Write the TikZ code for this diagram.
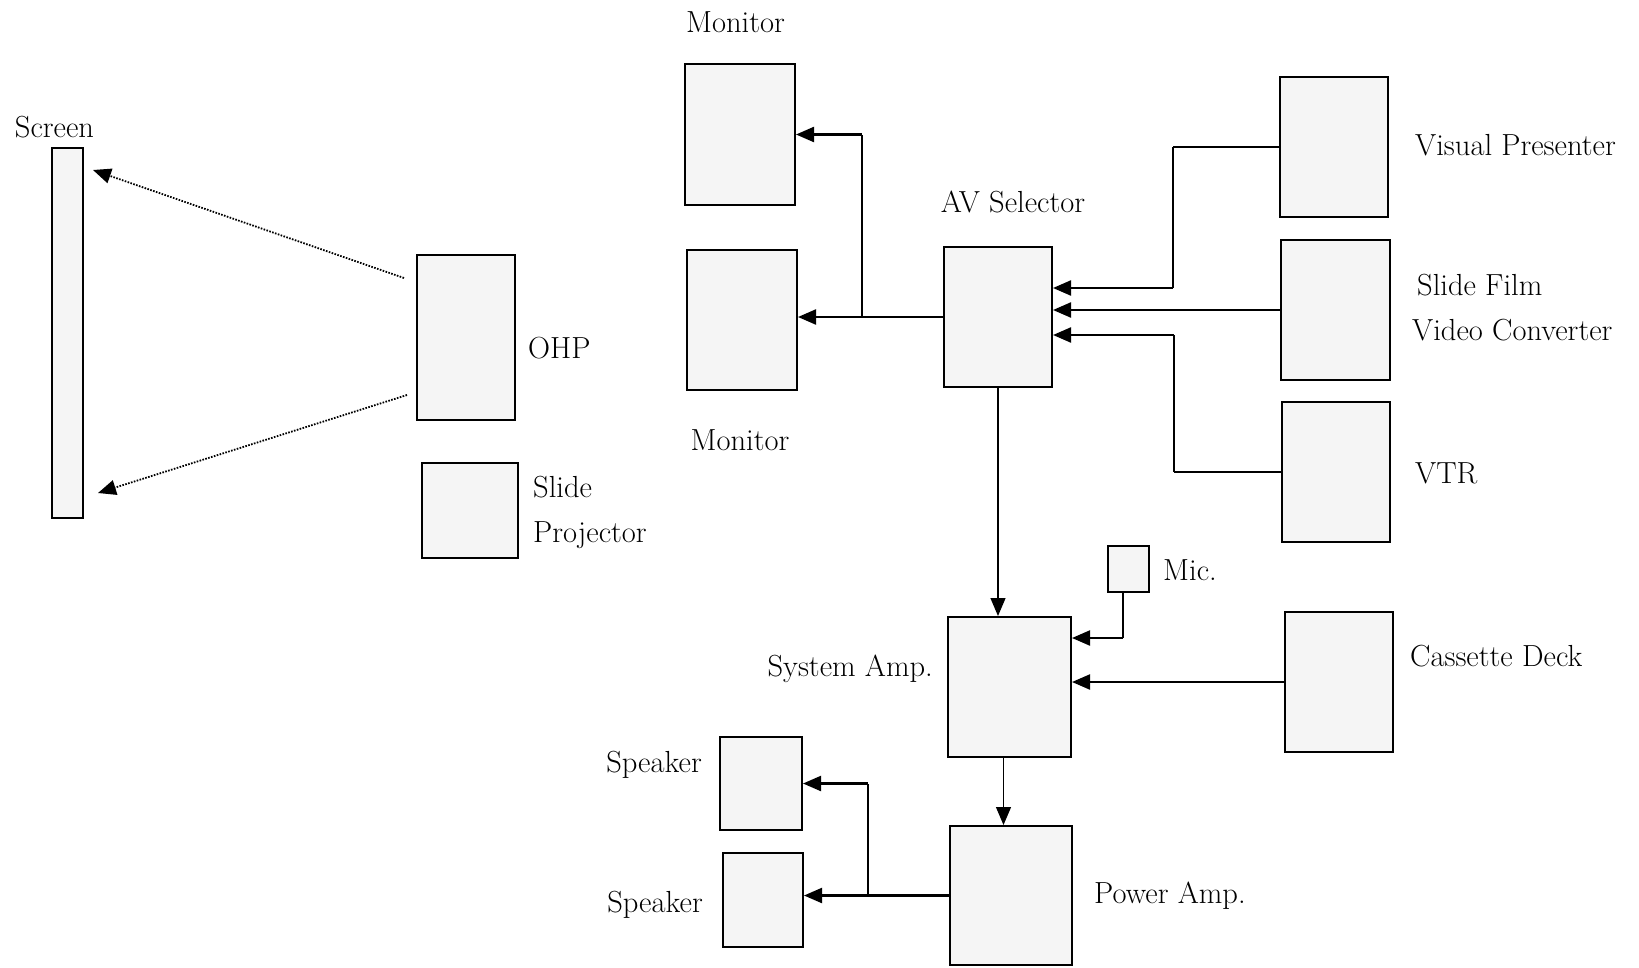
\documentclass[tikz,border=0pt]{standalone}
\usepackage{tikz}
\usetikzlibrary{arrows.meta}

\begin{document}
\begin{tikzpicture}[x=1pt,y=-1pt,
    unit/.style={draw,line width=2pt,fill=black!4,inner sep=0pt},
    lbl/.style={font=\fontsize{30.5}{34}\selectfont,inner sep=0pt},
    wire/.style={line width=2.2pt},
    tap/.style={line width=1.2pt},
    feed/.style={wire,-{Triangle[length=18pt,width=15pt]}},
    drop/.style={tap,-{Triangle[length=18pt,width=15pt]}},
    beam/.style={dash pattern=on 1.6pt off 1.4pt,line width=1.8pt,-{Triangle[length=18pt,width=15pt]}}]
  \useasboundingbox (0,0) rectangle (1639,967);

  % units
  \node[unit,minimum width=31pt,minimum height=370pt] (scr) at (67.5,333) {};
  \node[unit,minimum width=98pt,minimum height=165pt] (ohp) at (466,337.5) {};
  \node[unit,minimum width=96pt,minimum height=95pt] (slp) at (469.5,510.5) {};
  \node[unit,minimum width=110pt,minimum height=141pt] (mon1) at (740,134.5) {};
  \node[unit,minimum width=110pt,minimum height=140pt] (mon2) at (742,320) {};
  \node[unit,minimum width=108pt,minimum height=140pt] (av) at (998,317) {};
  \node[unit,minimum width=108pt,minimum height=140pt] (vp) at (1334,147) {};
  \node[unit,minimum width=109pt,minimum height=140pt] (sfc) at (1335.5,310) {};
  \node[unit,minimum width=108pt,minimum height=140pt] (vtr) at (1336,472) {};
  \node[unit,minimum width=41pt,minimum height=46pt] (mic) at (1128.5,569) {};
  \node[unit,minimum width=123pt,minimum height=140pt] (sys) at (1009.5,687) {};
  \node[unit,minimum width=108pt,minimum height=140pt] (cas) at (1339,682) {};
  \node[unit,minimum width=122pt,minimum height=139pt] (pa) at (1011,895.5) {};
  \node[unit,minimum width=82pt,minimum height=93pt] (spk1) at (761,783.5) {};
  \node[unit,minimum width=80pt,minimum height=94pt] (spk2) at (763,900) {};

  % labels
  \node[lbl] (lscr) at (54.5,127) {Screen};
  \node[lbl,anchor=west] (lohp) at (528,348) {OHP};
  \node[lbl,anchor=base west] (lslp1) at (533,497) {Slide};
  \node[lbl,anchor=base west] (lslp2) at (533,542) {Projector};
  \node[lbl] (lmon1) at (735.5,22) {Monitor};
  \node[lbl] (lmon2) at (740,440) {Monitor};
  \node[lbl] (lav) at (1013,202) {AV Selector};
  \node[lbl,anchor=west] (lvp) at (1415,145) {Visual Presenter};
  \node[lbl,anchor=west] (lsf1) at (1417,285) {Slide Film};
  \node[lbl,anchor=west] (lsf2) at (1412,330) {Video Converter};
  \node[lbl,anchor=west] (lvtr) at (1415,473) {VTR};
  \node[lbl,anchor=west] (lmic) at (1163,570) {Mic.};
  \node[lbl,anchor=west] (lcas) at (1410,656) {Cassette Deck};
  \node[lbl,anchor=east] (lsys) at (933,669) {System Amp.};
  \node[lbl,anchor=west] (lpa) at (1094,896) {Power Amp.};
  \node[lbl,anchor=east] (lspk1) at (702,765) {Speaker};
  \node[lbl,anchor=east] (lspk2) at (703,905) {Speaker};

  % projection onto the screen
  \coordinate (ohpU) at (404,278);
  \coordinate (ohpD) at (407,395);
  \coordinate (scrU) at (93,170);
  \coordinate (scrD) at (98,493);
  \draw[beam] (ohpU) -- (scrU);
  \draw[beam] (ohpD) -- (scrD);

  % AV selector to monitors
  \coordinate (mjoin) at (862,0 |- av.west);
  \draw[feed] (av.west) -- (av.west -| mon2.east);
  \draw[tap] (mjoin) -- (mjoin |- mon1.east);
  \draw[feed] (mjoin |- mon1.east) -- (mon1.east);

  % sources into AV selector
  \coordinate (vpbend) at (1173,288);
  \draw[wire] (vp.west) -- (vp.west -| vpbend);
  \draw[tap] (vp.west -| vpbend) -- (vpbend);
  \draw[feed] (vpbend) -- (vpbend -| av.east);
  \draw[feed] (sfc.west) -- (sfc.west -| av.east);
  \coordinate (vtrbend) at (1174,335);
  \draw[wire] (vtr.west) -- (vtr.west -| vtrbend);
  \draw[tap] (vtr.west -| vtrbend) -- (vtrbend);
  \draw[feed] (vtrbend) -- (vtrbend -| av.east);

  % audio chain
  \draw[drop] (av.south) -- (av.south |- sys.north);
  \coordinate (micbend) at (1123,638);
  \draw[tap] (micbend |- mic.south) -- (micbend);
  \draw[feed] (micbend) -- (micbend -| sys.east);
  \draw[feed] (cas.west) -- (cas.west -| sys.east);
  \draw[drop] ([xshift=-6pt]sys.south) -- ([xshift=-6pt]sys.south |- pa.north);

  % power amp to speakers
  \coordinate (sjoin) at (868,0 |- pa.west);
  \draw[feed] (pa.west) -- (pa.west -| spk2.east);
  \draw[tap] (sjoin) -- (sjoin |- spk1.east);
  \draw[feed] (sjoin |- spk1.east) -- (spk1.east);
\end{tikzpicture}
\end{document}
